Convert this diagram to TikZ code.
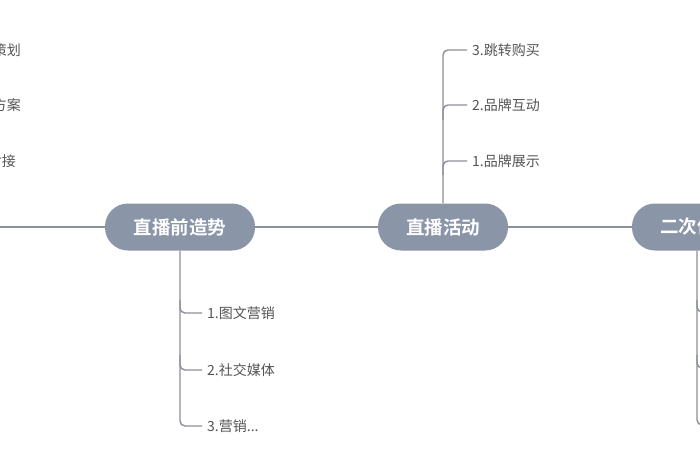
\documentclass[tikz,border=0pt]{standalone}
\usepackage{fontspec}
\newfontfamily\cjk{Noto Sans CJK SC}
\newfontfamily\cjkb{Noto Sans CJK SC Bold}
\definecolor{nodefill}{HTML}{8A95A8}
\definecolor{linec}{HTML}{8C9099}
\definecolor{txt}{HTML}{555555}
\tikzset{
  topic/.style={fill=nodefill, rounded corners=23pt, minimum width=150pt, minimum height=47pt, text=white, font=\cjkb\fontsize{18.5}{18.5}\selectfont, inner sep=0pt},
  leaf/.style={anchor=west, text=txt, font=\cjk\fontsize{14}{14}\selectfont, inner sep=0pt},
  leafe/.style={anchor=east, text=txt, font=\cjk\fontsize{14}{14}\selectfont, inner sep=0pt},
  conn/.style={draw=linec, line width=1.4pt},
  bconn/.style={draw=linec, line width=1.4pt, rounded corners=5pt}
}
\begin{document}
\begin{tikzpicture}[x=1pt,y=-1pt]
\useasboundingbox (0,0) rectangle (700,470);
\clip (0,0) rectangle (700,470);
\fill[white] (0,0) rectangle (700,470);
\coordinate (L) at (-20,227);
\node[topic] (a) at (180,227) {直播前造势};
\node[topic, minimum width=130pt] (b) at (443,227) {直播活动};
\node[topic, minimum width=130pt] (c) at (697,227) {二次传播};
\draw[conn] (L) -- (a.west);
\draw[conn] (a.east) -- (b.west);
\draw[conn] (b.east) -- (c.west);
% left clipped leaves
\node[leafe] (l1) at (21,50) {活动策划};
\node[leafe] (l2) at (21,105) {直播方案};
\node[leafe] (l3) at (16,161) {对接};
% branches of b (above)
\node[leaf] (b3) at (472,50) {3.跳转购买};
\node[leaf] (b2) at (472,105) {2.品牌互动};
\node[leaf] (b1) at (472,161) {1.品牌展示};
\draw[bconn] (b.north) -- (443,50) -- ([xshift=-5pt]b3.west);
\draw[bconn] (443,120) |- ([xshift=-5pt]b2.west);
\draw[bconn] (443,175) |- ([xshift=-5pt]b1.west);
% branches of a (below)
\node[leaf] (a1) at (207,313) {1.图文营销};
\node[leaf] (a2) at (207,370) {2.社交媒体};
\node[leaf] (a3) at (207,426) {3.营销...};
\draw[bconn] (a.south) -- (180,426) -- ([xshift=-5pt]a3.west);
\draw[bconn] (180,300) |- ([xshift=-5pt]a1.west);
\draw[bconn] (180,355) |- ([xshift=-5pt]a2.west);
% branches of c (below)
\coordinate (c1) at (715,312);
\coordinate (c2) at (715,368);
\coordinate (c3) at (715,425);
\draw[bconn] (c.south) -- (697,425) -- (c3);
\draw[bconn] (697,300) |- (c1);
\draw[bconn] (697,355) |- (c2);
\end{tikzpicture}
\end{document}
